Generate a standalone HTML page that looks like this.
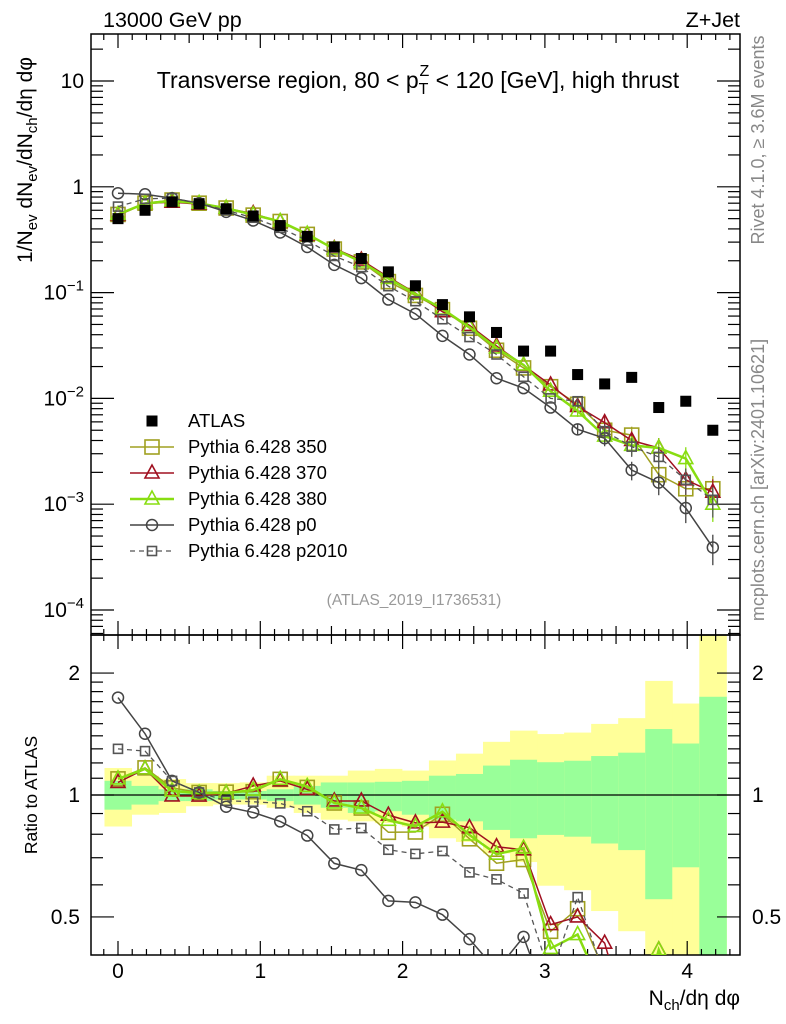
<!DOCTYPE html>
<html><head><meta charset="utf-8"><style>
html,body{margin:0;padding:0;background:#fff;overflow:hidden;}
svg{display:block;font-family:"Liberation Sans",sans-serif;}
</style></head><body>
<svg id="chart" width="786" height="1024" viewBox="0 0 786 1024" xmlns="http://www.w3.org/2000/svg">
<defs>
<clipPath id="cm"><rect x="91" y="34" width="649" height="601"/></clipPath>
<clipPath id="cr"><rect x="91" y="635" width="649" height="320"/></clipPath>
</defs>
<g id="bands" clip-path="url(#cr)"></g>
<g id="axes"></g>
<g id="mainMarks" clip-path="url(#cm)"></g>
<g id="ratioMarks" clip-path="url(#cr)"></g>
<g id="legend"></g>
<text x="103" y="27" font-size="21.5">13000 GeV pp</text>
<text x="740" y="27" font-size="21.5" text-anchor="end">Z+Jet</text>
<text x="418" y="88" font-size="23" text-anchor="middle">Transverse region, 80 &lt; p<tspan font-size="16" dy="6">T</tspan><tspan font-size="16" dx="-9" dy="-18">Z</tspan><tspan dy="12"> &lt; 120 [GeV], high thrust</tspan></text>
<text x="414" y="605" font-size="15.5" fill="#999" text-anchor="middle">(ATLAS_2019_I1736531)</text>
<text transform="translate(764,140) rotate(-90)" font-size="18" fill="#888" text-anchor="middle">Rivet 4.1.0, ≥ 3.6M events</text>
<text transform="translate(764,480) rotate(-90)" font-size="18" fill="#888" text-anchor="middle">mcplots.cern.ch [arXiv:2401.10621]</text>
<text transform="translate(32,160) rotate(-90)" font-size="21" text-anchor="middle">1/N<tspan font-size="15" dy="5">ev</tspan><tspan dy="-5"> dN</tspan><tspan font-size="15" dy="5">ev</tspan><tspan dy="-5">/dN</tspan><tspan font-size="15" dy="5">ch</tspan><tspan dy="-5">/dη dφ</tspan></text>
<text transform="translate(37,795) rotate(-90)" font-size="17.5" text-anchor="middle">Ratio to ATLAS</text>
<text x="740" y="1005" font-size="21" text-anchor="end">N<tspan font-size="15" dy="5">ch</tspan><tspan dy="-5">/dη dφ</tspan></text>
</svg>
<script>
const xVals=[0,0.19,0.38,0.57,0.76,0.95,1.14,1.33,1.52,1.71,1.90,2.09,2.28,2.47,2.66,2.85,3.04,3.23,3.42,3.61,3.80,3.99,4.18];
const atlas=[0.50,0.60,0.72,0.69,0.62,0.53,0.43,0.34,0.27,0.21,0.157,0.116,0.077,0.059,0.042,0.028,0.028,0.0168,0.0137,0.0158,0.0082,0.0094,0.0050];
const py350=[0.548,0.70,0.75,0.70,0.63,0.54,0.47,0.355,0.258,0.195,0.127,0.094,0.069,0.046,0.0285,0.0194,0.0129,0.0088,0.0050,0.0045,0.0019,0.0014,0.0014];
const py370=[0.537,0.696,0.716,0.686,0.626,0.558,0.466,0.351,0.261,0.203,0.140,0.099,0.066,0.049,0.0313,0.0205,0.0134,0.0084,0.0059,0.0040,0.0034,0.0017,0.0013];
const py380=[0.548,0.696,0.737,0.697,0.627,0.545,0.47,0.357,0.258,0.195,0.136,0.097,0.070,0.047,0.030,0.0207,0.0117,0.0076,0.0044,0.0036,0.0034,0.0027,0.0010];
const pyP0=[0.87,0.85,0.78,0.70,0.58,0.48,0.37,0.27,0.183,0.137,0.086,0.063,0.039,0.026,0.0155,0.0125,0.0082,0.0051,0.0042,0.0021,0.0016,0.00092,0.00039];
const pyP2010=[0.65,0.77,0.78,0.70,0.60,0.51,0.41,0.31,0.222,0.174,0.115,0.083,0.056,0.038,0.026,0.016,0.010,0.0094,0.0049,0.0035,0.0028,0.0017,0.0011];
const yelHi=[1.166,1.116,1.095,1.070,1.070,1.074,1.116,1.116,1.116,1.149,1.160,1.149,1.217,1.265,1.353,1.442,1.414,1.426,1.498,1.548,1.913,1.682,3.0];
const yelLo=[0.836,0.894,0.903,0.938,0.947,0.947,0.930,0.903,0.869,0.861,0.852,0.836,0.782,0.766,0.717,0.683,0.597,0.582,0.517,0.461,0.3,0.3,0.3];
const grnHi=[1.084,1.053,1.033,1.033,1.023,1.023,1.033,1.053,1.074,1.074,1.078,1.084,1.116,1.127,1.182,1.222,1.205,1.215,1.248,1.272,1.455,1.340,1.748];
const grnLo=[0.920,0.947,0.966,0.966,0.975,0.975,0.966,0.947,0.930,0.903,0.912,0.894,0.869,0.861,0.820,0.782,0.797,0.789,0.759,0.731,0.553,0.663,0.3];
const mainTicks=[10,1,0.1,0.01,0.001,0.0001];
const mainTickLabels=["10","1","10⁻¹","10⁻²","10⁻³","10⁻⁴"];
const ratioTicks=[0.5,1,2];
const ratioTickLabels=["0.5","1","2"];
const xTicks=[0,1,2,3,4];
const xTickLabels=["0","1","2","3","4"];

const NS="http://www.w3.org/2000/svg";
const L=91,R=740,MT=34,MB=635,RB=955,BIN=0.19;
const X=v=>118+v*142.3;
const Y=v=>81+(1-Math.log10(v))*105.8;
const RY=r=>795-Math.log10(r)*405;
function mk(tag,attrs,parent){const e=document.createElementNS(NS,tag);for(const k in attrs)e.setAttribute(k,attrs[k]);parent.appendChild(e);return e;}
const axes=document.getElementById('axes'),bands=document.getElementById('bands');
const mainG=document.getElementById('mainMarks'),ratG=document.getElementById('ratioMarks'),leg=document.getElementById('legend');

xVals.forEach((x,i)=>{
  const x0=X(x-BIN/2),x1=Math.min(X(x+BIN/2),R);
  const y=mk('rect',{x:x0,y:RY(yelHi[i]),width:x1-x0+0.5,height:RY(yelLo[i])-RY(yelHi[i]),fill:'#ffff99'},bands);
  
  
  const g=mk('rect',{x:x0,y:RY(grnHi[i]),width:x1-x0+0.5,height:RY(grnLo[i])-RY(grnHi[i]),fill:'#99ff99'},bands);
  
  
});
mk('line',{x1:L,x2:R,y1:RY(1),y2:RY(1),stroke:'#000','stroke-width':1.2},bands);

const f1=mk('rect',{x:L,y:MT,width:R-L,height:MB-MT,fill:'none',stroke:'#000','stroke-width':1.5},axes);


const f2=mk('rect',{x:L,y:MB,width:R-L,height:RB-MB,fill:'none',stroke:'#000','stroke-width':1.5},axes);



for(let k=-1;k<=43;k++){
  const v=k/10,x=X(v);if(x<L||x>R)continue;
  const len=(k%10===0)?14:(k%5===0?9:6);
  [[MB,1],[RB,1],[MT,-1]].forEach(([yb,dir])=>{
    mk('line',{x1:x,x2:x,y1:yb,y2:yb-len*dir,stroke:'#000','stroke-width':1.2},axes);
  });
  mk('line',{x1:x,x2:x,y1:MB,y2:MB+len,stroke:'#000','stroke-width':1.2},axes);
}
xTicks.forEach((v,i)=>{
  const t=mk('text',{x:X(v),y:978,'font-size':21,'text-anchor':'middle'},axes);
  t.textContent=xTickLabels[i];
  
  
});
for(let e=-5;e<=1;e++){
  for(let m=1;m<=9;m++){
    const v=m*Math.pow(10,e),y=Y(v);if(y<MT||y>MB)continue;
    const len=m===1?23:12;
    mk('line',{x1:L,x2:L+len,y1:y,y2:y,stroke:'#000','stroke-width':1.2},axes);
    mk('line',{x1:R,x2:R-len,y1:y,y2:y,stroke:'#000','stroke-width':1.2},axes);
  }
}
mainTicks.forEach((v,i)=>{
  const lab=mainTickLabels[i];
  const t=mk('text',{x:84,y:Y(v)+7,'font-size':21,'text-anchor':'end'},axes);
  if(lab.includes('⁻')){
    t.textContent='10';
    const s=mk('tspan',{'font-size':15,dy:-9},t);s.textContent='−'+Math.round(-Math.log10(v));
  } else t.textContent=lab;
  
  
});
[0.4,0.5,0.6,0.7,0.8,0.9,1,1.1,1.2,1.3,1.4,1.5,1.6,1.7,1.8,1.9,2,2.5].forEach(v=>{
  const y=RY(v);if(y<MB||y>RB)return;
  const len=(v===0.5||v===1||v===2)?23:12;
  mk('line',{x1:L,x2:L+len,y1:y,y2:y,stroke:'#000','stroke-width':1.2},axes);
  mk('line',{x1:R,x2:R-len,y1:y,y2:y,stroke:'#000','stroke-width':1.2},axes);
});
ratioTicks.forEach((v,i)=>{
  const t=mk('text',{x:80,y:RY(v)+7,'font-size':21,'text-anchor':'end'},axes);
  t.textContent=ratioTickLabels[i];
  
  
  const t2=mk('text',{x:752,y:RY(v)+7,'font-size':21},axes);
  t2.textContent=ratioTickLabels[i];
  
  
});

function marker(g,type,x,y,col,sz){
  let e;
  if(type==='fsq') e=mk('rect',{x:x-5.5,y:y-5.5,width:11,height:11,fill:'#000'},g);
  else if(type==='sq') e=mk('rect',{x:x-sz/2,y:y-sz/2,width:sz,height:sz,fill:'none',stroke:col,'stroke-width':1.6},g);
  else if(type==='tri') e=mk('polygon',{points:`${x},${y-8} ${x-7},${y+5} ${x+7},${y+5}`,fill:'none',stroke:col,'stroke-width':1.6},g);
  else e=mk('circle',{cx:x,cy:y,r:5.5,fill:'none',stroke:col,'stroke-width':1.5},g);
  return e;
}
const series=[
  {name:'Pythia 6.428 350',vals:py350,col:'#a0a020',type:'sq',sz:14,w:1.5,dash:null,id:'py350'},
  {name:'Pythia 6.428 370',vals:py370,col:'#a01020',type:'tri',w:1.5,dash:null,id:'py370'},
  {name:'Pythia 6.428 380',vals:py380,col:'#88dd11',type:'tri',w:2.5,dash:null,id:'py380'},
  {name:'Pythia 6.428 p0',vals:pyP0,col:'#444444',type:'circ',w:1.5,dash:null,id:'py-p0'},
  {name:'Pythia 6.428 p2010',vals:pyP2010,col:'#555555',type:'sq',sz:9,w:1.3,dash:'5,4',id:'py-p2010'}
];
series.forEach(s=>{
  const ptsM=xVals.map((x,i)=>X(x)+','+Y(s.vals[i])).join(' ');
  const pl=mk('polyline',{points:ptsM,fill:'none',stroke:s.col,'stroke-width':s.w},mainG);
  if(s.dash)pl.setAttribute('stroke-dasharray',s.dash);
  
  
  const ptsR=xVals.map((x,i)=>X(x)+','+RY(s.vals[i]/atlas[i])).join(' ');
  const pr=mk('polyline',{points:ptsR,fill:'none',stroke:s.col,'stroke-width':s.w},ratG);
  if(s.dash)pr.setAttribute('stroke-dasharray',s.dash);
  
  
  xVals.forEach((x,i)=>{
    const m=marker(mainG,s.type,X(x),Y(s.vals[i]),s.col,s.sz);
    
    
    const r=marker(ratG,s.type,X(x),RY(s.vals[i]/atlas[i]),s.col,s.sz);
    
    
    if(i>=17){
      const e=0.12+0.04*(i-17);
      mk('line',{x1:X(x),x2:X(x),y1:Y(s.vals[i]*(1+e)),y2:Y(s.vals[i]*(1-e)),stroke:s.col,'stroke-width':1.3},mainG);
    }
  });
});
xVals.forEach((x,i)=>{
  const m=marker(mainG,'fsq',X(x),Y(atlas[i]));
  
  
});

const legY=[421,447,473,499,525,551];
const le0=marker(leg,'fsq',152,legY[0]);


const lt0=mk('text',{x:188,y:legY[0]+6,'font-size':18.5},leg);lt0.textContent='ATLAS';


series.forEach((s,i)=>{
  const y=legY[i+1];
  const l=mk('line',{x1:130,x2:174,y1:y,y2:y,stroke:s.col,'stroke-width':s.w},leg);
  if(s.dash)l.setAttribute('stroke-dasharray',s.dash);
  const m=marker(leg,s.type,152,y,s.col,s.sz);
  
  
  const t=mk('text',{x:188,y:y+6,'font-size':18.5},leg);t.textContent=s.name;
  
  
});
</script>
</body></html>
